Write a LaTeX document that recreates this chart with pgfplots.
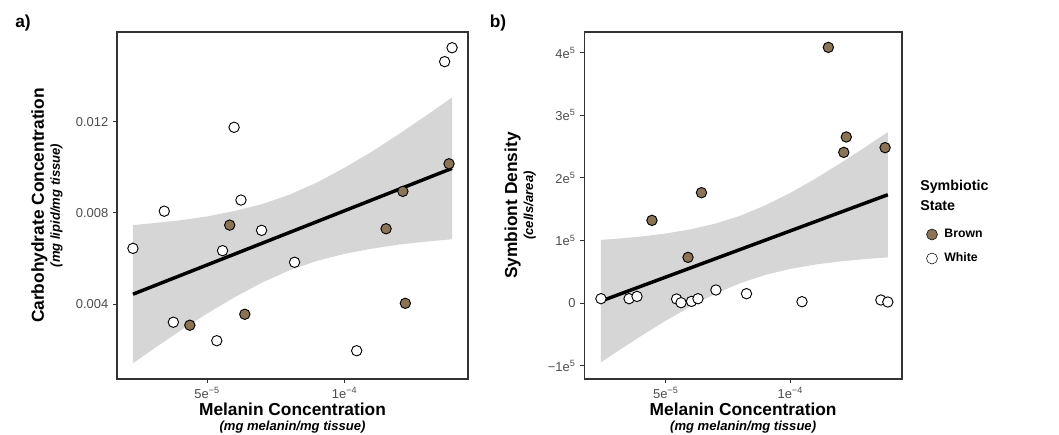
\documentclass[border=0pt]{standalone}
\usepackage{fontspec}
\setmainfont{Liberation Sans}
\usepackage{pgfplots}
\pgfplotsset{compat=1.18}

\definecolor{brownstate}{RGB}{139,115,85}
\definecolor{band}{RGB}{214,214,214}
\definecolor{frame}{RGB}{51,51,51}
\definecolor{ticktext}{RGB}{77,77,77}

\pgfplotsset{
  panel/.style={
    scale only axis,
    anchor=south west,
    height=260.25pt,
    axis line style={draw=frame, line width=1.1pt},
    tick align=outside,
    xtick pos=bottom,
    ytick pos=left,
    major tick length=3pt,
    tick style={draw=frame, line width=0.7pt},
    tick label style={font=\fontsize{9.7}{11}\selectfont, text=ticktext},
    scaled ticks=false,
    xmin=1.72e-5, xmax=14.49e-5,
    xtick={5e-5,1e-4},
    xticklabels={5e\textsuperscript{−5},1e\textsuperscript{−4}},
    xlabel style={at={(axis description cs:0.5,0)}, anchor=north, yshift=-18pt, inner sep=0pt, align=center},
    ylabel style={anchor=south, inner sep=0pt, align=center},
  },
  pts/.style={only marks, mark=*, mark size=3.9pt, mark options={draw=black, line width=0.7pt}},
}

\begin{document}
\begin{tikzpicture}
\useasboundingbox (0,0) rectangle (794.25pt,-326.25pt);

% panel a
\begin{axis}[panel,
  at={(87.75pt,-284.25pt)}, width=263.25pt,
  ymin=0.00071, ymax=0.01593,
  ytick={0.004,0.008,0.012},
  yticklabels={0.004,0.008,0.012},
  ylabel style={at={(axis description cs:-0.154,0.5)}},
  xlabel={{\fontsize{13}{15}\bfseries Melanin Concentration}\\[-1pt]{\fontsize{9.8}{11}\bfseries\itshape (mg melanin/mg tissue)}},
  ylabel={{\fontsize{13}{15}\bfseries Carbohydrate Concentration}\\[0pt]{\fontsize{9.8}{11}\bfseries\itshape (mg lipid/mg tissue)}},
]
\addplot[draw=none, fill=band] coordinates {
  (2.30e-5,0.00746) (3e-5,0.00754) (4e-5,0.00767) (5e-5,0.00784) (6e-5,0.00808)
  (7e-5,0.00838) (8e-5,0.00880) (9e-5,0.00933) (10e-5,0.00998) (11e-5,0.01069)
  (12e-5,0.01147) (13e-5,0.01229) (13.91e-5,0.01306)
  (13.91e-5,0.00684) (13e-5,0.00674) (12e-5,0.00661) (11e-5,0.00643) (10e-5,0.00620)
  (9e-5,0.00589) (8e-5,0.00548) (7e-5,0.00494) (6e-5,0.00430) (5e-5,0.00358)
  (4e-5,0.00281) (3e-5,0.00199) (2.30e-5,0.00140)
};
\addplot[black, line width=2.6pt] coordinates {(2.30e-5,0.00443) (13.91e-5,0.00995)};
\addplot[pts, fill=brownstate] coordinates {
  (4.37e-5,0.00307) (5.82e-5,0.00746) (6.37e-5,0.00355) (11.51e-5,0.00730)
  (12.12e-5,0.00894) (12.21e-5,0.00403) (13.80e-5,0.01015)
};
\addplot[pts, fill=white] coordinates {
  (2.30e-5,0.00644) (3.44e-5,0.00807) (3.77e-5,0.00320) (5.35e-5,0.00239)
  (5.56e-5,0.00634) (5.98e-5,0.01175) (6.23e-5,0.00856) (6.98e-5,0.00723)
  (8.18e-5,0.00583) (10.44e-5,0.00195) (13.64e-5,0.01463) (13.91e-5,0.01524)
};
\end{axis}

% panel b
\begin{axis}[panel,
  at={(438.2pt,-284.25pt)}, width=238.3pt,
  ymin=-1.214e5, ymax=4.329e5,
  ytick={-1e5,0,1e5,2e5,3e5,4e5},
  yticklabels={−1e\textsuperscript{5},0,1e\textsuperscript{5},2e\textsuperscript{5},3e\textsuperscript{5},4e\textsuperscript{5}},
  ylabel style={at={(axis description cs:-0.152,0.5)}},
  xlabel={{\fontsize{13}{15}\bfseries Melanin Concentration}\\[-1pt]{\fontsize{9.8}{11}\bfseries\itshape (mg melanin/mg tissue)}},
  ylabel={{\fontsize{13}{15}\bfseries Symbiont Density}\\[0pt]{\fontsize{9.8}{11}\bfseries\itshape (cells/area)}},
  legend style={at={(axis description cs:1.0755,0.436)}, anchor=north west, draw=none, fill=none,
    inner sep=0pt, font=\fontsize{9.2}{10}\bfseries, row sep=8pt,
    nodes={inner sep=1pt},
    /tikz/every odd column/.append style={column sep=4pt}},
  legend image code/.code={\draw[#1] (0.15cm,0cm) circle (4.1pt);},
  legend cell align=left,
]
\addplot[draw=none, fill=band, forget plot] coordinates {
  (2.39e-5,1.008e5) (3e-5,1.026e5) (4e-5,1.062e5) (5e-5,1.111e5) (6e-5,1.177e5)
  (7e-5,1.270e5) (8e-5,1.396e5) (9e-5,1.561e5) (10e-5,1.759e5) (11e-5,1.984e5)
  (12e-5,2.230e5) (13e-5,2.486e5) (13.92e-5,2.731e5)
  (13.92e-5,0.729e5) (13e-5,0.702e5) (12e-5,0.664e5) (11e-5,0.614e5) (10e-5,0.545e5)
  (9e-5,0.449e5) (8e-5,0.318e5) (7e-5,0.150e5) (6e-5,-0.053e5) (5e-5,-0.281e5)
  (4e-5,-0.528e5) (3e-5,-0.786e5) (2.39e-5,-0.948e5)
};
\addplot[black, line width=2.6pt, forget plot] coordinates {(2.39e-5,0.03e5) (13.92e-5,1.73e5)};
\addplot[pts, fill=brownstate] coordinates {
  (4.44e-5,1.320e5) (5.89e-5,0.729e5) (6.43e-5,1.762e5) (11.53e-5,4.083e5)
  (12.15e-5,2.406e5) (12.25e-5,2.652e5) (13.81e-5,2.481e5)
};
\addlegendentry{Brown}
\addplot[pts, fill=white] coordinates {
  (2.39e-5,0.069e5) (3.52e-5,0.069e5) (3.84e-5,0.105e5) (5.43e-5,0.064e5)
  (5.61e-5,0.005e5) (6.03e-5,0.026e5) (6.29e-5,0.069e5) (7.01e-5,0.208e5)
  (8.24e-5,0.149e5) (10.47e-5,0.021e5) (13.64e-5,0.048e5) (13.92e-5,0.016e5)
};
\addlegendentry{White}
\end{axis}

\node[anchor=base west, font=\fontsize{10.7}{12}\bfseries, inner sep=0pt] at (690pt,-142.5pt) {Symbiotic};
\node[anchor=base west, font=\fontsize{10.7}{12}\bfseries, inner sep=0pt] at (690pt,-157.5pt) {State};
\node[font=\fontsize{13}{15}\bfseries] at (17.25pt,-17.25pt) {a)};
\node[font=\fontsize{13}{15}\bfseries] at (373.5pt,-17.25pt) {b)};
\end{tikzpicture}
\end{document}
